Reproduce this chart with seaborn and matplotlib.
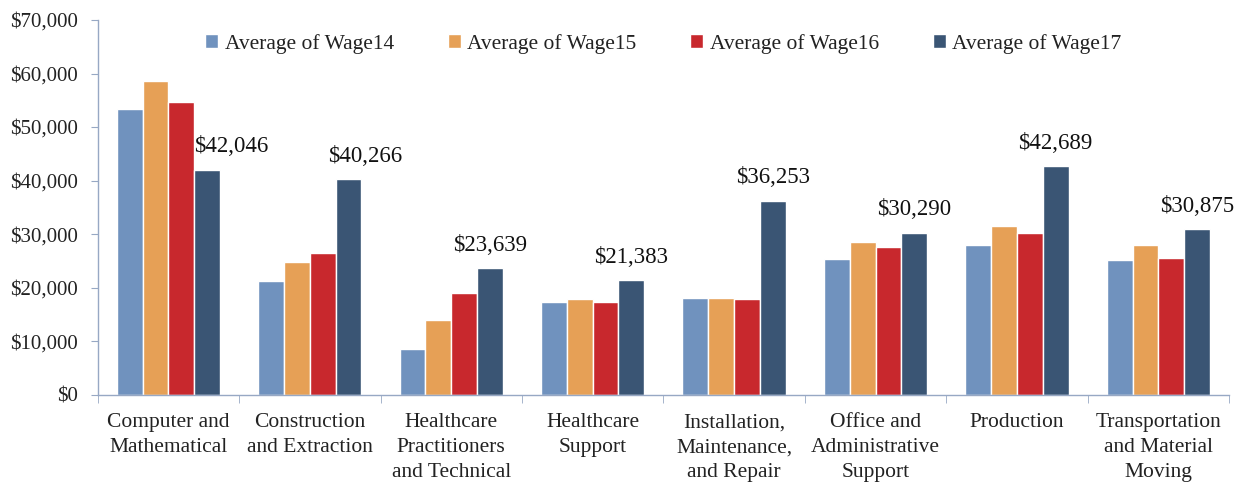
import numpy as np
import pandas as pd
import matplotlib
matplotlib.use("Agg")
from matplotlib import pyplot as plt
from matplotlib.ticker import StrMethodFormatter, FixedLocator
import seaborn as sns

# values
occupations = ["Computer and\nMathematical", "Construction\nand Extraction",
	"Healthcare\nPractitioners\nand Technical", "Healthcare\nSupport",
	"Installation,\nMaintenance,\nand Repair", "Office and\nAdministrative\nSupport",
	"Production", "Transportation\nand Material\nMoving"]
wage14 = [53400, 21200, 8500, 17300, 18100, 25300, 27900, 25100]
wage15 = [58600, 24700, 14000, 17900, 18100, 28600, 31600, 27900]
wage16 = [54600, 26400, 19000, 17400, 17900, 27500, 30300, 25600]
wage17 = [42046, 40266, 23639, 21383, 36253, 30290, 42689, 30875]
series = ["Average of Wage14", "Average of Wage15", "Average of Wage16", "Average of Wage17"]
colors = ["#7092BE", "#E6A056", "#C8282D", "#3A5574"]

df = pd.DataFrame({
	"occupation": occupations * 4,
	"series": np.repeat(series, len(occupations)),
	"wage": wage14 + wage15 + wage16 + wage17,
})

sns.set_style("white")
plt.rcParams["font.family"] = ["Liberation Serif", "DejaVu Serif"]

fig = plt.figure(figsize=(12.44, 4.87), dpi=100)
ax = fig.add_axes([0.0785, 0.1895, 0.9095, 0.7695])

sns.barplot(data=df, x="occupation", y="wage", hue="series",
	palette=colors, width=0.73, gap=0, saturation=1, ax=ax, errorbar=None)

# labels only on the last series
anns = ax.bar_label(ax.containers[3], labels=["${:,}".format(v) for v in wage17],
	padding=9, fontsize=16.5, color="#111111")
# first two labels sit a little to the right in the original
anns[0].xyann = (17, anns[0].xyann[1])
anns[1].xyann = (12, anns[1].xyann[1])

ax.set_ylim(0, 70000)
ax.set_xlim(-0.5, len(occupations) - 0.5)
ax.yaxis.set_major_formatter(StrMethodFormatter("${x:,.0f}"))
ax.set_yticks(range(0, 70001, 10000))
ax.set_xlabel("")
ax.set_ylabel("")

for s in ["top", "right"]:
	ax.spines[s].set_visible(False)
for s in ["left", "bottom"]:
	ax.spines[s].set_color("#97A8C4")
	ax.spines[s].set_linewidth(1.0)

ax.tick_params(axis="y", which="major", left=True, length=5, color="#97A8C4",
	labelsize=15, labelcolor="#222222", pad=9)
ax.tick_params(axis="x", which="major", bottom=False, labelsize=15.5,
	labelcolor="#222222", pad=10)
ax.xaxis.set_minor_locator(FixedLocator(np.arange(-0.5, len(occupations), 1.0)))
ax.tick_params(axis="x", which="minor", bottom=True, length=6, color="#97A8C4")
for t in ax.get_xticklabels():
	t.set_linespacing(1.4)

leg = ax.legend(loc="upper center", bbox_to_anchor=(0.5, 1.015), ncol=4,
	frameon=False, fontsize=15.5, handlelength=0.6, handleheight=0.6,
	handletextpad=0.3, columnspacing=2.5)
for t in leg.get_texts():
	t.set_color("#222222")

fig.savefig("out.png", dpi=100)
